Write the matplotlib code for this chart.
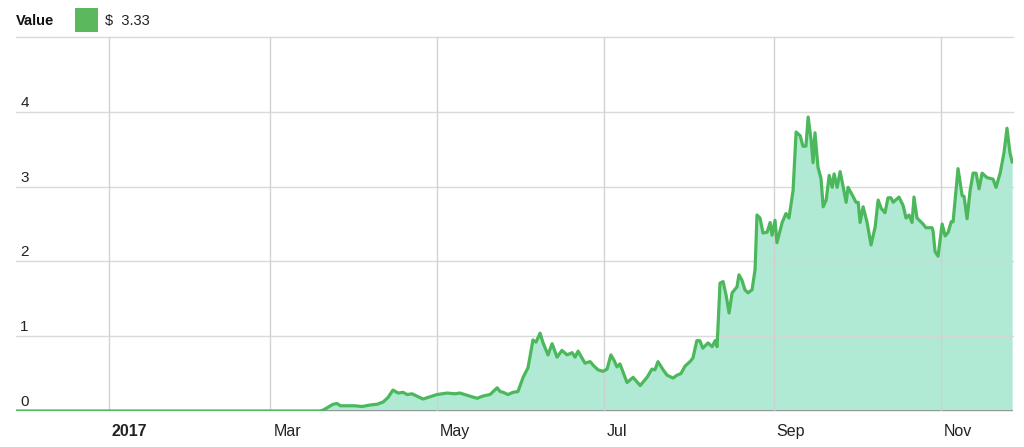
import pandas as pd
import numpy as np
import matplotlib
matplotlib.use("Agg")
import matplotlib.pyplot as plt
from matplotlib.patches import Rectangle
from matplotlib.transforms import ScaledTranslation

plt.rcParams['font.family'] = ['Liberation Sans', 'DejaVu Sans']

# days counted from 2017-01-01, value in $
days = [-34.0, 77.0, 78.2, 81.9, 83.4, 84.6, 87.4, 89.9, 92.5, 95.4, 98.0, 100.2,
        102.0, 103.8, 105.7, 107.5, 109.0, 110.8, 113.7, 114.8, 117.4, 119.9,
        123.6, 126.5, 128.3, 130.9, 132.7, 134.6, 136.7, 139.3, 141.9, 143.0,
        144.1, 145.9, 147.7, 149.5, 151.4, 153.2, 155.0, 156.1, 157.6, 158.7,
        160.5, 162.0, 163.8, 165.6, 167.5, 169.3, 170.4, 171.5, 174.0, 175.9,
        177.3, 178.8, 180.6, 182.1, 183.5, 184.6, 185.7, 186.8, 189.4, 191.6,
        194.2, 196.7, 198.5, 199.6, 200.7, 202.6, 204.0, 206.2, 207.7, 209.1,
        210.6, 212.4, 213.5, 214.9, 216.0, 217.1, 219.0, 220.5, 221.6, 222.3,
        223.4, 224.5, 225.6, 226.7, 227.8, 229.6, 230.3, 231.4, 232.5, 233.6,
        235.1, 236.2, 236.9, 238.0, 239.1, 240.6, 241.7, 242.4, 243.5, 244.2,
        246.1, 247.5, 248.6, 250.1, 251.2, 252.7, 253.7, 254.8, 255.6, 256.7,
        257.4, 258.1, 259.2, 260.3, 261.1, 262.2, 263.3, 264.4, 265.1, 266.2,
        267.3, 268.4, 269.5, 270.2, 272.0, 273.1, 273.9, 274.6, 275.7, 277.1,
        278.6, 280.1, 281.2, 282.3, 283.7, 284.8, 285.9, 286.7, 288.8, 290.3,
        291.4, 292.5, 293.6, 294.3, 295.4, 297.6, 298.7, 300.9, 301.3, 302.0,
        303.1, 304.6, 305.7, 306.8, 307.9, 308.6, 310.4, 311.9, 312.6, 313.7,
        314.8, 315.9, 317.0, 318.1, 319.2, 321.0, 323.2, 324.3, 325.8, 327.2,
        328.3, 329.4, 330.2]
values = [0.0, 0.0, 0.01, 0.09, 0.10, 0.07, 0.07, 0.07, 0.06, 0.08, 0.09, 0.12,
          0.18, 0.28, 0.24, 0.25, 0.22, 0.23, 0.18, 0.16, 0.19, 0.22,
          0.24, 0.23, 0.24, 0.21, 0.19, 0.17, 0.20, 0.22, 0.31, 0.26,
          0.25, 0.22, 0.25, 0.26, 0.45, 0.58, 0.95, 0.92, 1.04, 0.91,
          0.75, 0.90, 0.72, 0.81, 0.75, 0.78, 0.72, 0.80, 0.64, 0.66,
          0.60, 0.55, 0.53, 0.56, 0.75, 0.68, 0.59, 0.63, 0.38, 0.45,
          0.34, 0.45, 0.56, 0.55, 0.66, 0.55, 0.48, 0.44, 0.48, 0.50,
          0.60, 0.66, 0.71, 0.94, 0.94, 0.84, 0.91, 0.86, 0.94, 0.86,
          1.71, 1.73, 1.55, 1.31, 1.58, 1.66, 1.82, 1.75, 1.62, 1.58,
          1.62, 1.89, 2.62, 2.58, 2.38, 2.39, 2.52, 2.35, 2.55, 2.25,
          2.52, 2.64, 2.58, 2.95, 3.73, 3.68, 3.54, 3.54, 3.93, 3.62,
          3.32, 3.72, 3.26, 3.11, 2.73, 2.82, 3.15, 2.99, 3.17, 2.99,
          3.20, 3.00, 2.79, 2.99, 2.87, 2.79, 2.79, 2.52, 2.73, 2.53,
          2.22, 2.46, 2.82, 2.71, 2.65, 2.85, 2.85, 2.79, 2.86, 2.75,
          2.58, 2.62, 2.52, 2.86, 2.58, 2.50, 2.45, 2.45, 2.40, 2.13,
          2.07, 2.50, 2.34, 2.39, 2.53, 2.53, 3.24, 2.88, 2.87, 2.57,
          2.94, 3.18, 3.18, 2.97, 3.18, 3.12, 3.10, 2.99, 3.18, 3.45,
          3.78, 3.45, 3.33]

tick_dates = ['2017-01-01', '2017-03-01', '2017-05-01', '2017-07-01', '2017-09-01', '2017-11-01']
tick_labels = ['2017', 'Mar', 'May', 'Jul', 'Sep', 'Nov']
y_ticks = [0, 1, 2, 3, 4]
last_value = "$  3.33"

dates = pd.Timestamp('2017-01-01') + pd.to_timedelta(days, unit='D')
ticks = pd.to_datetime(tick_dates)

line_color = '#4cb85c'
fill_color = '#44cc99'

fig = plt.figure(figsize=(10.24, 4.47), dpi=100)
ax = fig.add_axes([16 / 1024, 36 / 447, 997 / 1024, 374 / 447])

ax.fill_between(dates, values, 0, color=fill_color, alpha=0.42, lw=0, zorder=1)
ax.axhline(0, color='#8a8a8a', lw=1.2, zorder=2)
ax.plot(dates, values, color=line_color, lw=2.3, zorder=4, solid_joinstyle='round')

ax.set_xlim(pd.Timestamp('2017-01-01') + pd.Timedelta(days=-34),
            pd.Timestamp('2017-01-01') + pd.Timedelta(days=330.5))
ax.set_ylim(0, 5)

# grid
for v in y_ticks[1:] + [5]:
    ax.axhline(v, color='#d6d6d6', lw=1, zorder=3, alpha=0.9, clip_on=False)
for t in ticks:
    ax.axvline(t, color='#cfcfcf', lw=1, zorder=3, alpha=0.9)

for s in ax.spines.values():
    s.set_visible(False)
ax.set_yticks([])
ax.set_xticks(ticks)
ax.set_xticklabels(tick_labels, fontsize=11.5, color='#222222')
ax.tick_params(axis='x', length=0, pad=18)
shift = ScaledTranslation(3 / 100, 0, fig.dpi_scale_trans)
for lbl in ax.get_xticklabels():
    lbl.set_ha('left')
    lbl.set_va('baseline')
    lbl.set_transform(lbl.get_transform() + shift)
ax.get_xticklabels()[0].set_fontweight('bold')

for v in y_ticks:
    ax.annotate(str(v), xy=(0, v), xycoords=('axes fraction', 'data'),
                xytext=(3, 1.5), textcoords='offset points', ha='left', va='bottom',
                fontsize=11, color='#222222')

# legend header
fig.text(16 / 1024, 1 - 21 / 447, 'Value', fontsize=10.5, fontweight='bold',
         color='#111111', va='center', ha='left')
fig.patches.append(Rectangle((75 / 1024, 1 - 32 / 447), 23 / 1024, 24 / 447,
                             transform=fig.transFigure, color='#5cb85c', lw=0))
fig.text(105 / 1024, 1 - 21 / 447, last_value, fontsize=10.5, color='#222222',
         va='center', ha='left')

fig.savefig('out.png', dpi=100)
